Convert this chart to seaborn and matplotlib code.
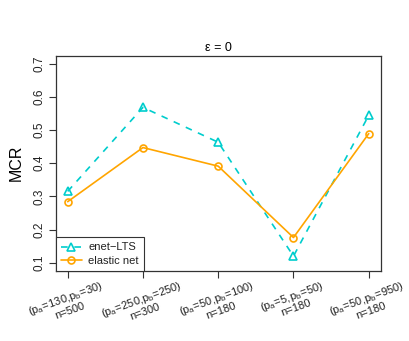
import numpy as np
import pandas as pd
import matplotlib
matplotlib.use("Agg")
import matplotlib.pyplot as plt
import seaborn as sns

# settings along the x axis
pa = [130, 250, 50, 5, 50]
pb = [30, 250, 100, 50, 950]
n_obs = [500, 300, 180, 180, 180]

# misclassification rates
mcr_enet_lts = [0.315, 0.568, 0.463, 0.120, 0.544]
mcr_elastic = [0.284, 0.447, 0.391, 0.176, 0.489]

sns.set_style("ticks", {'text.color': 'black', 'axes.labelcolor': 'black',
                        'xtick.color': '#333333', 'ytick.color': '#333333'})
plt.rcParams['font.family'] = ['Liberation Sans', 'DejaVu Sans']
plt.rcParams['mathtext.fontset'] = 'custom'
plt.rcParams['mathtext.rm'] = 'Liberation Sans'
plt.rcParams['mathtext.it'] = 'Liberation Sans'

pos = np.arange(1, len(pa) + 1)
df = pd.DataFrame({'pos': pos, 'enet': mcr_enet_lts, 'enal': mcr_elastic})

fig = plt.figure(figsize=(4.09, 3.41), dpi=100)
ax = fig.add_axes([0.136, 0.206, 0.795, 0.631])

cyan = '#00CDCD'
orange = '#FFA500'
sns.lineplot(data=df, x='pos', y='enet', ax=ax, color=cyan, linestyle=(0, (4, 4)),
             marker='^', markersize=5.5, mfc='none', mec=cyan, mew=1.2, lw=1.2,
             label='enet\u2212LTS')
sns.lineplot(data=df, x='pos', y='enal', ax=ax, color=orange, linestyle='-',
             marker='o', markersize=5, mfc='none', mec=orange, mew=1.2, lw=1.2,
             label='elastic net')

ax.set_xlim(0.84, 5.16)
ax.set_ylim(0.076, 0.724)
ax.set_yticks([0.1, 0.2, 0.3, 0.4, 0.5, 0.6, 0.7])
ax.set_yticklabels(['0.1', '0.2', '0.3', '0.4', '0.5', '0.6', '0.7'],
                   rotation=90, va='center', fontsize=8.5, color='#222222')
labels = [r"$\mathregular{(p_a\!=\!%d{,}p_b\!=\!%d)}$" % (a, b) + "\nn=%d" % m
          for a, b, m in zip(pa, pb, n_obs)]
ax.set_xticks(pos)
ax.set_xticklabels(labels, rotation=20, ha='center', va='top', fontsize=8,
                   multialignment='center', linespacing=1.0, color='#222222')
ax.tick_params(direction='out', length=5, width=0.8, pad=2)
ax.tick_params(axis='x', pad=1)
for s in ax.spines.values():
    s.set_visible(True)
    s.set_linewidth(0.9)
    s.set_color('#333333')

ax.set_xlabel('')
ax.set_ylabel('MCR', fontsize=11.5, labelpad=7)
ax.set_title('\u03b5 = 0', fontsize=9, pad=3)

leg = ax.legend(loc='lower left', borderaxespad=0, fancybox=False, framealpha=1,
                edgecolor='#333333', fontsize=8, handlelength=1.9, handletextpad=0.6,
                borderpad=0.45, labelspacing=0.3)
leg.get_frame().set_linewidth(0.8)
for t in leg.get_texts():
    t.set_color('#222222')

fig.savefig('out.png', dpi=100)
